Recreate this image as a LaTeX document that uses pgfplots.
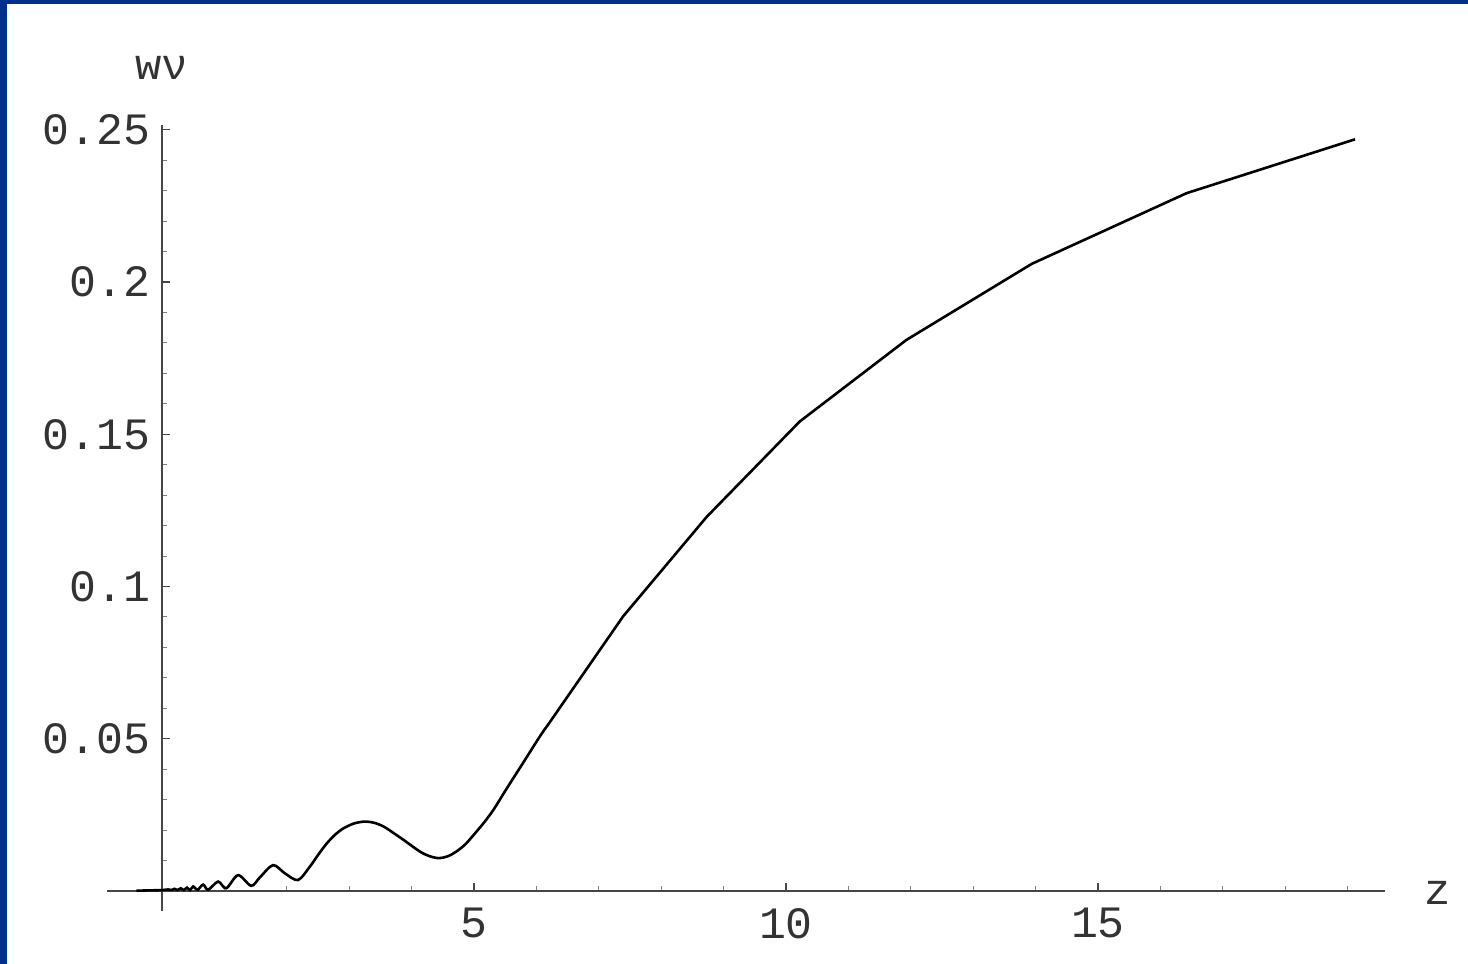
\documentclass[border=0pt]{standalone}
\usepackage{fontspec}
\setmainfont{Liberation Mono}
\usepackage{pgfplots}
\pgfplotsset{compat=1.18}
\definecolor{frameblue}{RGB}{0,48,140}
\definecolor{axisgray}{RGB}{70,70,70}
\pgfplotstableread{
x y
-0.41 0.0001
-0.20 0.0002
0.00 0.0003
0.10 0.0005
0.15 0.0003
0.20 0.0007
0.25 0.0003
0.30 0.0009
0.35 0.0003
0.40 0.0011
0.45 0.0003
0.50 0.0015
0.57 0.0004
0.66 0.0021
0.74 0.0004
0.90 0.0031
1.03 0.0009
1.22 0.0052
1.43 0.0017
1.57 0.0045
1.78 0.0085
1.97 0.0058
2.18 0.0036
2.37 0.0080
2.50 0.0118
2.64 0.0156
2.78 0.0186
2.91 0.0206
3.08 0.0222
3.25 0.0228
3.40 0.0224
3.55 0.0212
3.70 0.0192
3.87 0.0168
4.13 0.0130
4.28 0.0115
4.43 0.0108
4.58 0.0114
4.72 0.0130
4.86 0.0153
4.99 0.0183
5.15 0.0222
5.31 0.0266
5.52 0.0335
5.80 0.0425
6.06 0.0509
6.20 0.0550
}\smoothpart
\pgfplotstableread{
x y
6.20 0.0550
7.39 0.0902
8.73 0.1229
10.22 0.1542
11.93 0.1810
13.94 0.2060
16.42 0.2292
19.12 0.2469
}\linepart
\begin{document}
\begin{tikzpicture}
\path[use as bounding box, fill=white] (0,0) rectangle (734bp,482bp);
\fill[frameblue] (0,0) rectangle (3.7bp,482bp);
\fill[frameblue] (0,480bp) rectangle (734bp,482bp);
\begin{axis}[
  at={(53.5bp,26.5bp)}, anchor=south west,
  scale only axis, width=639bp, height=393bp,
  xmin=-0.881, xmax=19.60, ymin=-0.00657, ymax=0.2516,
  axis lines=middle,
  axis line style={axisgray, line width=0.9bp, -},
  xtick={5,10,15}, xticklabels={5,10,15},
  ytick={0.05,0.1,0.15,0.2,0.25},
  yticklabels={0.05,0.1,0.15,0.2,0.25},
  minor xtick={1,2,3,4,6,7,8,9,11,12,13,14,16,17,18,19},
  minor ytick={0.01,0.02,0.03,0.04,0.06,0.07,0.08,0.09,0.11,0.12,0.13,0.14,0.16,0.17,0.18,0.19,0.21,0.22,0.23,0.24},
  tick align=inside,
  major tick length=4bp, minor tick length=2.5bp,
  major tick style={axisgray, line width=0.6bp},
  minor tick style={gray, line width=0.5bp},
  ticklabel style={font=\fontsize{22.5}{26}\selectfont, text=black!80},
  yticklabel style={xshift=-2.5bp},
  xticklabel style={yshift=-5bp},
  xlabel={z}, ylabel={wν},
  xlabel style={at={(axis description cs:1.0415,0.0229)}, anchor=center, font=\fontsize{22}{26}\selectfont, text=black!80},
  ylabel style={at={(axis description cs:0.043,1.0725)}, anchor=center, rotate=0, font=\fontsize{22}{26}\selectfont, text=black!80},
  clip=false,
]
\addplot[black, line width=1.3bp, smooth, tension=0.5] table[x=x, y=y] {\smoothpart};
\addplot[black, line width=1.3bp, sharp plot, line join=round] table[x=x, y=y] {\linepart};
\end{axis}
\end{tikzpicture}
\end{document}
